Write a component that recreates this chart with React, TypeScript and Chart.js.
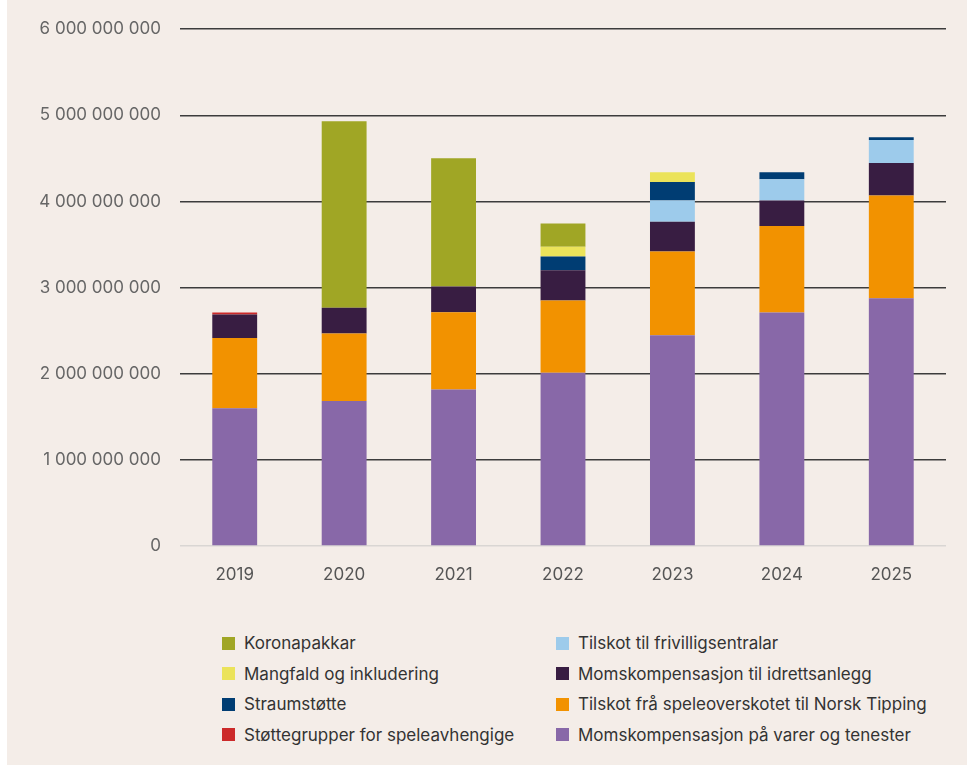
import React, { useEffect, useRef } from "react";
import { Chart, registerables } from "chart.js";

Chart.register(...registerables);

const years = ["2019", "2020", "2021", "2022", "2023", "2024", "2025"];

const momsVarer = [1.6e9, 1.682e9, 1.816e9, 2.01e9, 2.448e9, 2.71e9, 2.875e9];
const speleoverskot = [0.815e9, 0.785e9, 0.897e9, 0.84e9, 0.97e9, 1.005e9, 1.193e9];
const momsIdrett = [0.274e9, 0.3e9, 0.3e9, 0.35e9, 0.346e9, 0.296e9, 0.378e9];
const stottegrupper = [0.023e9, 0, 0, 0, 0, 0, 0];
const frivilligsentralar = [0, 0, 0, 0, 0.246e9, 0.246e9, 0.269e9];
const straumstotte = [0, 0, 0, 0.162e9, 0.216e9, 0.081e9, 0.031e9];
const mangfald = [0, 0, 0, 0.112e9, 0.112e9, 0, 0];
const koronapakkar = [0, 2.163e9, 1.49e9, 0.27e9, 0, 0, 0];

const yTicks = [0, 1e9, 2e9, 3e9, 4e9, 5e9, 6e9];

const COLORS = {
  korona: "#a0a625",
  mangfald: "#ebe35a",
  straum: "#003d73",
  stotte: "#cc2a2a",
  frivillig: "#9dcbeb",
  idrett: "#381d42",
  spele: "#f29200",
  varer: "#8868a8",
};

const legendLeft = [
  { label: "Koronapakkar", color: COLORS.korona },
  { label: "Mangfald og inkludering", color: COLORS.mangfald },
  { label: "Straumstøtte", color: COLORS.straum },
  { label: "Støttegrupper for speleavhengige", color: COLORS.stotte },
];
const legendRight = [
  { label: "Tilskot til frivilligsentralar", color: COLORS.frivillig },
  { label: "Momskompensasjon til idrettsanlegg", color: COLORS.idrett },
  { label: "Tilskot frå speleoverskotet til Norsk Tipping", color: COLORS.spele },
  { label: "Momskompensasjon på varer og tenester", color: COLORS.varer },
];

const FONT = "Inter, 'Noto Sans', sans-serif";

function fmt(v: number) {
  return String(Math.round(v)).replace(/\B(?=(\d{3})+(?!\d))/g, " ");
}

export default function App() {
  const ref = useRef<HTMLCanvasElement | null>(null);
  useEffect(() => {
    if (!ref.current) return;
    const ds = (label: string, data: number[], color: string) => ({
      label,
      data,
      backgroundColor: color,
      borderWidth: 0,
      categoryPercentage: 1,
      barPercentage: 0.41,
    });
    const chart = new Chart(ref.current, {
      type: "bar",
      data: {
        labels: years,
        datasets: [
          ds("Momskompensasjon på varer og tenester", momsVarer, COLORS.varer),
          ds("Tilskot frå speleoverskotet til Norsk Tipping", speleoverskot, COLORS.spele),
          ds("Momskompensasjon til idrettsanlegg", momsIdrett, COLORS.idrett),
          ds("Støttegrupper for speleavhengige", stottegrupper, COLORS.stotte),
          ds("Tilskot til frivilligsentralar", frivilligsentralar, COLORS.frivillig),
          ds("Straumstøtte", straumstotte, COLORS.straum),
          ds("Mangfald og inkludering", mangfald, COLORS.mangfald),
          ds("Koronapakkar", koronapakkar, COLORS.korona),
        ],
      },
      options: {
        animation: false,
        responsive: false,
        layout: { padding: { top: 26, right: 21, left: 0, bottom: 0 } },
        plugins: { legend: { display: false }, tooltip: { enabled: false } },
        scales: {
          x: {
            stacked: true,
            grid: { display: false },
            border: { display: false },
            ticks: { color: "#555", font: { family: FONT, size: 17 }, padding: 11 },
            afterFit: (s: any) => {
              s.height = 44;
            },
          },
          y: {
            stacked: true,
            min: 0,
            max: 6e9,
            afterBuildTicks: (s: any) => {
              s.ticks = yTicks.map((v) => ({ value: v }));
            },
            afterFit: (s: any) => {
              s.width = 173;
            },
            grid: {
              drawTicks: false,
              color: (c: any) => (c.tick && c.tick.value === 0 ? "#d9d6d3" : "#3c3c3c"),
              lineWidth: 1.5,
            },
            border: { display: false },
            ticks: {
              color: "#666",
              font: { family: FONT, size: 17 },
              padding: 19,
              callback: (v: any) => fmt(Number(v)),
            },
          },
        },
      },
    } as any);
    return () => chart.destroy();
  }, []);

  const item = (it: { label: string; color: string }) => (
    <div
      key={it.label}
      style={{ height: 30.5, display: "flex", alignItems: "center" }}
    >
      <span
        style={{
          width: 13,
          height: 13,
          background: it.color,
          display: "inline-block",
          marginRight: 9,
          flex: "none",
        }}
      />
      <span style={{ whiteSpace: "nowrap" }}>{it.label}</span>
    </div>
  );

  return (
    <div
      style={{
        position: "fixed",
        left: 7,
        top: 0,
        width: 960,
        height: 765,
        background: "#f4ede8",
        fontFamily: FONT,
      }}
    >
      <canvas ref={ref} width={960} height={590} style={{ display: "block" }} />
      <div
        style={{
          position: "absolute",
          top: 628,
          left: 215,
          fontSize: 17,
          color: "#333",
        }}
      >
        {legendLeft.map(item)}
      </div>
      <div
        style={{
          position: "absolute",
          top: 628,
          left: 549,
          fontSize: 17,
          color: "#333",
        }}
      >
        {legendRight.map(item)}
      </div>
    </div>
  );
}
